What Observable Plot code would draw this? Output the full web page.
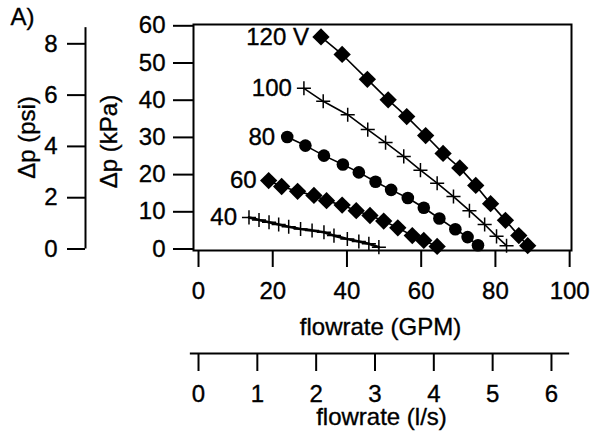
<!DOCTYPE html>
<html>
<head>
<meta charset="utf-8">
<script src="https://cdn.jsdelivr.net/npm/d3@7"></script>
<script src="https://cdn.jsdelivr.net/npm/@observablehq/plot@0.6"></script>
<style>
  html, body { margin: 0; padding: 0; background: white; }
  svg text { stroke: black; stroke-width: 0.35px; }
</style>
</head>
<body>
<div id="chart"></div>
<script>
// ---- data (flowrate in GPM, pressure drop in kPa) ----
const seriesNames = ["120 V", "100", "80", "60", "40"];
const gpm120 = [33.0, 38.7, 45.5, 51.1, 56.1, 61.2, 65.9, 70.4, 74.7, 78.7, 82.7, 86.3, 88.7];
const kpa120 = [57.0, 52.3, 45.6, 40.1, 35.6, 30.5, 25.7, 21.8, 17.1, 12.2, 7.7, 3.6, 0.9];
const gpm100 = [28.4, 33.6, 40.2, 45.6, 50.4, 55.3, 59.8, 64.3, 68.7, 73.0, 77.1, 80.3, 83.0];
const kpa100 = [43.2, 39.7, 36.1, 32.1, 28.6, 24.9, 21.2, 17.7, 14.1, 10.3, 6.6, 3.4, 0.9];
const gpm80 = [23.9, 28.8, 33.8, 38.9, 43.2, 47.7, 51.9, 56.4, 60.7, 64.9, 69.2, 72.5, 75.3];
const kpa80 = [30.1, 27.8, 25.1, 22.7, 20.6, 18.1, 15.9, 13.7, 11.1, 8.2, 5.3, 3.2, 1.0];
const gpm60 = [18.9, 22.4, 26.7, 31.1, 34.5, 38.7, 42.5, 46.2, 49.9, 53.7, 57.6, 60.7, 64.3];
const kpa60 = [18.4, 16.8, 15.5, 14.4, 13.0, 11.8, 10.3, 9.0, 7.5, 5.7, 3.6, 2.3, 0.7];
const gpm40 = [13.6, 16.3, 19.0, 21.6, 24.3, 27.5, 30.6, 33.8, 36.5, 40.1, 43.2, 45.9, 48.6];
const kpa40 = [8.5, 7.8, 7.2, 6.6, 6.0, 5.4, 5.0, 4.5, 3.6, 2.7, 2.0, 1.4, 0.5];
const seriesSymbols = ["diamond", "plus", "circle", "diamond", "plus"];

const kpaTicks = [0, 10, 20, 30, 40, 50, 60];
const psiTicks = [0, 2, 4, 6, 8];
const gpmTicks = [0, 20, 40, 60, 80, 100];
const lpsTicks = [0, 1, 2, 3, 4, 5, 6];

const KPA_PER_PSI = 6.89476;
const GPM_PER_LPS = 15.8503;

// ---- build table ----
const gx = [gpm120, gpm100, gpm80, gpm60, gpm40];
const ky = [kpa120, kpa100, kpa80, kpa60, kpa40];
const rows = [];
seriesNames.forEach((name, i) => {
  gx[i].forEach((g, j) => rows.push({series: name, symbol: seriesSymbols[i], gpm: g, kpa: ky[i][j], first: j === 0}));
});
const firsts = rows.filter(d => d.first);

const xDomain = [-1.35, 100.5];
const yDomain = [-0.4, 60.35];

const font = "'Liberation Sans', Arial, Helvetica, sans-serif";

const chart = Plot.plot({
  width: 596,
  height: 432,
  marginLeft: 193,
  marginRight: 25,
  marginTop: 24,
  marginBottom: 182,
  style: {fontFamily: font, fontSize: "24px", color: "black", background: "white"},
  x: {domain: xDomain},
  y: {domain: yDomain},
  marks: [
    Plot.frame({stroke: "black", strokeWidth: 2}),
    // series lines
    Plot.line(rows.filter(d => d.series !== "40"), {x: "gpm", y: "kpa", z: "series", stroke: "black", strokeWidth: 1.6}),
    Plot.line(rows.filter(d => d.series === "40"), {x: "gpm", y: "kpa", stroke: "black", strokeWidth: 2.6}),
    // markers
    Plot.dot(rows.filter(d => d.symbol === "diamond"), {x: "gpm", y: "kpa", symbol: "diamond2", fill: "black", r: 7.8}),
    Plot.dot(rows.filter(d => d.symbol === "circle"), {x: "gpm", y: "kpa", symbol: "circle", fill: "black", r: 6.3}),
    Plot.dot(rows.filter(d => d.symbol === "plus"), {x: "gpm", y: "kpa", symbol: "plus", stroke: "black", strokeWidth: 1.5, r: 4.6}),
    // series labels
    Plot.text(firsts, {x: "gpm", y: "kpa", text: "series", textAnchor: "end", dx: -12, fill: "black"}),
    // kPa axis
    Plot.axisY({ticks: kpaTicks, tickSize: 20, tickPadding: 8, strokeWidth: 2, label: null, tickFormat: d => d}),
    // psi axis
    Plot.axisY({ticks: psiTicks.map(p => p * KPA_PER_PSI), tickFormat: d => Math.round(d / KPA_PER_PSI),
      tickSize: 18, tickPadding: 10, strokeWidth: 2, dx: -108, label: null}),
    Plot.ruleX([xDomain[0]], {y1: 0, y2: 59.5, dx: -108, stroke: "black", strokeWidth: 2}),
    // GPM axis
    Plot.axisX({ticks: gpmTicks, tickSize: 17, tickPadding: 14, strokeWidth: 2, label: null, tickFormat: d => d}),
    // l/s axis
    Plot.axisX({ticks: lpsTicks.map(v => v * GPM_PER_LPS), tickFormat: d => Math.round(d / GPM_PER_LPS),
      tickSize: 18, tickPadding: 13, strokeWidth: 2, dy: 103, label: null}),
    Plot.ruleY([yDomain[0]], {x1: -2.2, x2: 100, dy: 103, stroke: "black", strokeWidth: 2}),
    // axis titles
    Plot.text(["flowrate (GPM)"], {frameAnchor: "bottom", textAnchor: "middle", lineAnchor: "bottom", dx: -2, dy: 84, fill: "black"}),
    Plot.text(["flowrate (l/s)"], {frameAnchor: "bottom", textAnchor: "middle", lineAnchor: "bottom", dx: -1, dy: 174, fill: "black"}),
    Plot.text(["Δp (kPa)"], {frameAnchor: "left", textAnchor: "middle", lineAnchor: "middle", rotate: -90, dx: -84, dy: 4, fill: "black"}),
    Plot.text(["Δp (psi)"], {frameAnchor: "left", textAnchor: "middle", lineAnchor: "middle", rotate: -90, dx: -166, dy: 0, fill: "black"}),
    Plot.text(["A)"], {frameAnchor: "top-left", textAnchor: "start", lineAnchor: "top", dx: -183, dy: -17, fill: "black"})
  ]
});
document.getElementById("chart").appendChild(chart);
</script>
</body>
</html>
